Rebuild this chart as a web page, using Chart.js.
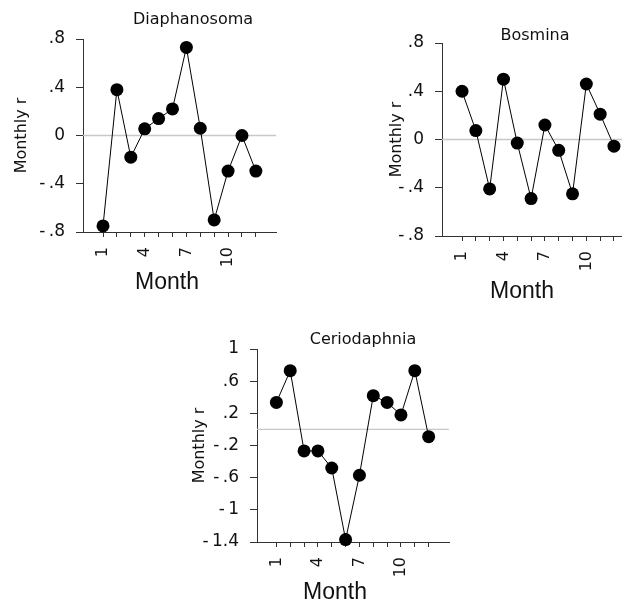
<!DOCTYPE html>
<html>
<head>
<meta charset="utf-8">
<script src="https://cdn.jsdelivr.net/npm/chart.js@4/dist/chart.umd.min.js"></script>
<style>
  html, body { margin: 0; padding: 0; background: #fff; overflow: hidden; width: 622px; height: 604px; }
  canvas { position: absolute; left: 0; top: 0; }
</style>
</head>
<body>
<canvas id="c1" width="660" height="604"></canvas>
<canvas id="c2" width="660" height="604"></canvas>
<canvas id="c3" width="660" height="604"></canvas>
<script>
'use strict';

// data
var months = [1, 2, 3, 4, 5, 6, 7, 8, 9, 10, 11, 12];
var monthLabels = [1, 4, 7, 10];
var diaphanosoma = [-0.75, 0.38, -0.18, 0.055, 0.14, 0.22, 0.73, 0.06, -0.70, -0.295, 0.0, -0.295];
var bosmina = [0.40, 0.074, -0.41, 0.50, -0.03, -0.49, 0.12, -0.09, -0.45, 0.46, 0.21, -0.055];
var ceriodaphnia = [0.336, 0.73, -0.267, -0.267, -0.48, -1.37, -0.57, 0.42, 0.336, 0.18, 0.73, -0.09];
var yTicksSmall = [-0.8, -0.4, 0, 0.4, 0.8];
var yTicksCerio = [-1.4, -1, -0.6, -0.2, 0.2, 0.6, 1];

var W = 660, H = 604;
var axisColor = '#333';

function fmt(v) {
  if (Math.abs(v) < 1e-9) return '0';
  var s = Math.abs(v).toString().replace(/^0\./, '.');
  return v < 0 ? '-\u2009' + s : s;
}

// titles drawn on top of each panel
var panelText = {
  id: 'panelText',
  afterDraw: function (chart, args, opts) {
    var ctx = chart.ctx;
    ctx.save();
    ctx.fillStyle = '#111';
    ctx.textAlign = 'center';
    ctx.textBaseline = 'middle';
    ctx.font = '16px "DejaVu Sans"';
    ctx.fillText(opts.title, opts.titleX, opts.titleY);
    ctx.font = '23px "Liberation Sans"';
    ctx.fillText('Month', opts.monthX, opts.monthY);
    ctx.restore();
  }
};

function makePanel(id, p) {
  var yTitleLine = 16 * 1.2;
  var padLeft = p.yTitleX - yTitleLine / 2;
  var xHeight = 40;
  new Chart(document.getElementById(id), {
    type: 'line',
    data: {
      datasets: [{
        data: months.map(function (m, i) { return { x: m, y: p.values[i] }; }),
        borderColor: '#000',
        borderWidth: 1,
        backgroundColor: '#000',
        pointRadius: 6.5,
        pointBorderWidth: 0,
        tension: 0,
        clip: false
      }, {
        data: [{ x: p.xMin, y: 0 }, { x: p.xMax, y: 0 }],
        borderColor: '#c8c8c8',
        borderWidth: 1.3,
        pointRadius: 0
      }]
    },
    plugins: [panelText],
    options: {
      responsive: false,
      animation: false,
      layout: {
        padding: {
          left: padLeft,
          top: p.top,
          right: W - p.right,
          bottom: H - p.bottom - xHeight
        }
      },
      plugins: {
        legend: { display: false },
        tooltip: { enabled: false },
        panelText: p.text
      },
      scales: {
        x: {
          type: 'linear',
          min: p.xMin,
          max: p.xMax,
          afterBuildTicks: function (s) { s.ticks = months.map(function (v) { return { value: v }; }); },
          afterFit: function (s) { s.height = xHeight; },
          ticks: {
            autoSkip: false,
            minRotation: 90,
            maxRotation: 90,
            padding: 10,
            color: '#111',
            font: { family: 'DejaVu Sans', size: 16 },
            callback: function (v) { return monthLabels.indexOf(v) >= 0 ? String(v) : ''; }
          },
          grid: { drawOnChartArea: false, tickLength: 5, tickColor: axisColor },
          border: { color: axisColor, width: 1 }
        },
        y: {
          min: p.yTicks[0],
          max: p.yTicks[p.yTicks.length - 1],
          afterBuildTicks: function (s) { s.ticks = p.yTicks.map(function (v) { return { value: v }; }); },
          afterFit: function (s) { s.width = p.left - padLeft; },
          ticks: {
            padding: 11,
            color: '#111',
            font: { family: 'DejaVu Sans', size: 17 },
            callback: function (v) { return fmt(v); }
          },
          grid: { drawOnChartArea: false, tickLength: 7, tickColor: axisColor },
          border: { color: axisColor, width: 1 },
          title: {
            display: true,
            text: 'Monthly r',
            color: '#111',
            padding: 0,
            font: { family: 'DejaVu Sans', size: 16 }
          }
        }
      }
    }
  });
}

makePanel('c1', {
  values: diaphanosoma, yTicks: yTicksSmall,
  left: 83, top: 39, right: 276, bottom: 232, xMin: -0.44, xMax: 13.45, yTitleX: 22,
  text: { title: 'Diaphanosoma', titleX: 193, titleY: 20, monthX: 167, monthY: 283 }
});
makePanel('c2', {
  values: bosmina, yTicks: yTicksSmall,
  left: 442, top: 43, right: 634, bottom: 236, xMin: -0.45, xMax: 13.45, yTitleX: 397,
  text: { title: 'Bosmina', titleX: 535, titleY: 36, monthX: 522, monthY: 292 }
});
makePanel('c3', {
  values: ceriodaphnia, yTicks: yTicksCerio,
  left: 257, top: 349, right: 449, bottom: 542, xMin: -0.40, xMax: 13.47, yTitleX: 200,
  text: { title: 'Ceriodaphnia', titleX: 363, titleY: 340, monthX: 335, monthY: 593 }
});
</script>
</body>
</html>
